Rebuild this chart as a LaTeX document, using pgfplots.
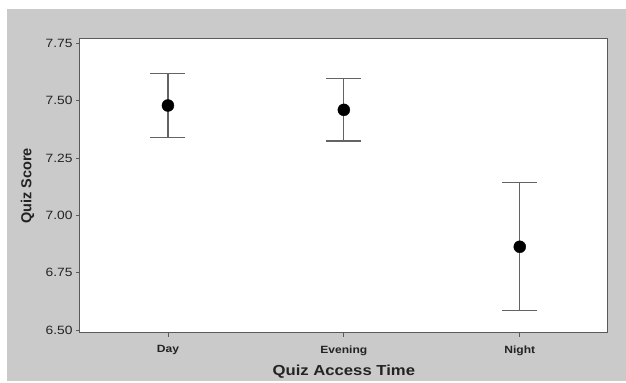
\documentclass[border=0pt]{standalone}
\usepackage{pgfplots}
\pgfplotsset{compat=1.18}
\usepackage{fontspec}
\setmainfont{Liberation Sans}[FakeStretch=1.15]
\newfontfamily\upfont{Liberation Sans}

\definecolor{panel}{RGB}{202,202,202}
\definecolor{frame}{RGB}{90,90,90}
\definecolor{barcol}{RGB}{100,100,100}
\definecolor{ink}{RGB}{35,35,35}

% means with 95% confidence intervals
\pgfplotstableread{
x  mean   err
0  7.479  0.140
1  7.460  0.136
2  6.863  0.279
}\scores

\begin{document}
\begin{tikzpicture}
  \path[fill=white] (0bp,0bp) rectangle (626bp,381bp);
  \path[fill=panel] (7bp,0bp) rectangle (626bp,372bp);
  \begin{axis}[
    at={(80bp,48bp)}, anchor=south west,
    scale only axis,
    width=527.7bp, height=294bp,
    axis background/.style={fill=white},
    axis line style={draw=frame, line width=1bp},
    xmin=-0.5, xmax=2.5,
    ymin=6.487, ymax=7.769,
    xtick={0,1,2},
    xticklabels={Day,Evening,Night},
    ytick={6.50,6.75,7.00,7.25,7.50,7.75},
    xtick pos=bottom, ytick pos=left,
    tick align=outside,
    major tick length=4bp,
    tick style={draw=frame, line width=0.8bp},
    /pgf/number format/.cd, fixed, fixed zerofill, precision=2, assume math mode=true,
    /pgfplots/.cd,
    yticklabel style={font=\fontsize{12bp}{14bp}\selectfont, text=ink},
    xticklabel style={font=\fontsize{10.5bp}{12bp}\selectfont\bfseries, text=ink, yshift=-5bp},
    xlabel={Quiz Access Time},
    ylabel={Quiz Score},
    xlabel style={font=\fontsize{14.5bp}{16bp}\selectfont\bfseries, text=ink,
      at={(axis description cs:0.5,-0.133)}, anchor=center},
    ylabel style={font=\upfont\fontsize{14.5bp}{16bp}\selectfont\bfseries, text=ink,
      at={(axis description cs:-0.0995,0.5)}, anchor=center},
  ]
    \addplot[
      only marks,
      mark=*, mark size=6bp,
      mark options={fill=black, draw=black},
      error bars/.cd,
        y dir=both, y explicit,
        error bar style={draw=barcol, line width=1.2bp},
        error mark options={draw=barcol, line width=1.2bp, mark size=17.5bp, rotate=90},
    ] table[x=x, y=mean, y error=err] {\scores};
  \end{axis}
\end{tikzpicture}
\end{document}
